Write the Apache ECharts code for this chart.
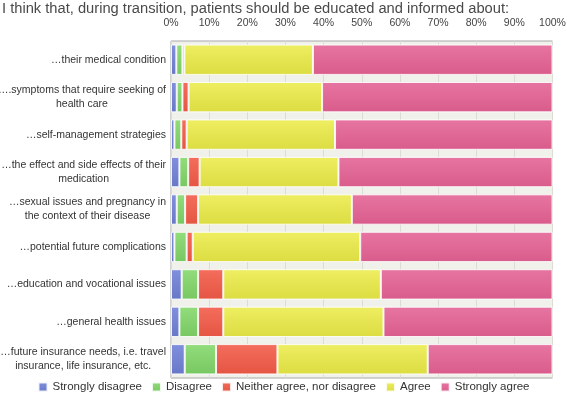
<!DOCTYPE html>
<html>
<head>
<meta charset="utf-8">
<script src="https://cdn.jsdelivr.net/npm/echarts@6/dist/echarts.min.js"></script>
<style>html,body{margin:0;padding:0;background:#fff;}#c{width:567px;height:404px;}</style>
</head>
<body>
<div id="c"></div>
<script>
const title = "I think that, during transition, patients should be educated and informed about:";
const categories = [
  "…their medical condition",
  "….symptoms that require seeking of\nhealth care",
  "…self-management strategies",
  "…the effect and side effects of their\nmedication",
  "…sexual issues and pregnancy in\nthe context of their disease",
  "…potential future complications",
  "…education and vocational issues",
  "…general health issues",
  "…future insurance needs, i.e. travel\ninsurance, life insurance, etc."
];
const seriesNames = ["Strongly disagree", "Disagree", "Neither agree, nor disagree", "Agree", "Strongly agree"];
const stronglyDisagree = [1.4, 1.5, 0.9, 2.2, 1.5, 0.9, 2.8, 2.2, 3.6];
const disagree         = [1.6, 1.5, 1.8, 2.3, 2.2, 3.2, 4.3, 4.9, 8.2];
const neither          = [0.5, 1.6, 1.4, 3.0, 3.4, 1.6, 6.6, 6.6, 16.1];
const agree            = [33.7, 35.0, 38.9, 36.4, 40.3, 43.9, 41.3, 42.0, 39.4];
const stronglyAgree    = [62.8, 60.4, 57.0, 56.1, 52.6, 50.4, 45.0, 44.3, 32.7];
const tickLabels = ["0%","10%","20%","30%","40%","50%","60%","70%","80%","90%","100%"];

const colors = [
  ["#8190dd", "#6878c8"],
  ["#92dc7c", "#78c862"],
  ["#f46d5c", "#e55543"],
  ["#eeee62", "#dcdc42"],
  ["#e775a1", "#d95c8b"]
];
const values = [stronglyDisagree, disagree, neither, agree, stronglyAgree];
const font = "'Liberation Sans', Arial, sans-serif";

const chart = echarts.init(document.getElementById('c'), null, {renderer: 'canvas'});
chart.setOption({
  animation: false,
  backgroundColor: '#fff',
  color: colors.map(function (c) { return c[1]; }),
  textStyle: {fontFamily: font},
  title: {
    text: title, left: 2, top: 1, padding: [0, 0],
    textStyle: {fontSize: 14.7, fontWeight: 'normal', color: '#4a4a4a', fontFamily: font}
  },
  grid: {
    left: 171, right: 14.5, top: 41, bottom: 26,
    containLabel: false, outerBoundsMode: 'none',
    show: true, backgroundColor: '#f1f1ec', borderColor: '#a8a8a8', borderWidth: 1
  },
  legend: {
    bottom: 6, left: 'center', icon: 'rect', itemWidth: 9, itemHeight: 9, itemGap: 9,
    textStyle: {fontSize: 11.5, color: '#333', fontFamily: font},
    data: seriesNames
  },
  xAxis: {
    type: 'value', position: 'top', min: 0, max: 100, interval: 10,
    axisLine: {show: false}, axisTick: {show: false},
    axisLabel: {
      margin: 12, fontSize: 10.5, color: '#444', fontFamily: font,
      formatter: function (v) { return tickLabels[Math.round(v / 10)]; }
    },
    splitLine: {show: true, lineStyle: {color: '#dcdcd6', width: 1}}
  },
  yAxis: {
    type: 'category', inverse: true, data: categories,
    axisLine: {show: false}, axisTick: {show: false},
    axisLabel: {
      margin: 5, align: 'right', fontSize: 10.5, color: '#333', fontFamily: font, lineHeight: 14,
      formatter: function (v) { return v.split('\n').map(function (s) { return '{c|' + s + '}'; }).join('\n'); },
      rich: {c: {align: 'center', fontSize: 10.5, color: '#333', lineHeight: 14, fontFamily: font}}
    }
  },
  series: seriesNames.map(function (name, i) {
    return {
      name: name, type: 'bar', stack: 'total', barCategoryGap: '19%',
      data: values[i],
      itemStyle: {
        color: new echarts.graphic.LinearGradient(0, 0, 0, 1, [
          {offset: 0, color: colors[i][0]}, {offset: 1, color: colors[i][1]}
        ]),
        borderColor: 'rgba(255,255,255,0.85)', borderWidth: 1
      }
    };
  })
});
</script>
</body>
</html>
